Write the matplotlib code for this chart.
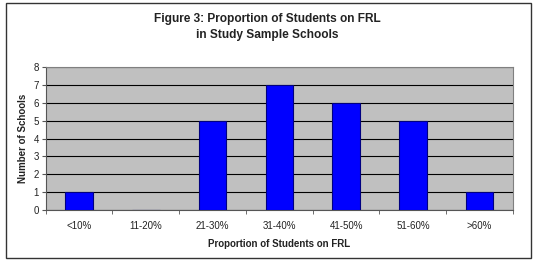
import matplotlib
matplotlib.use("Agg")
import matplotlib.pyplot as plt
from matplotlib.patches import Rectangle
import numpy as np

categories = ["<10%", "11-20%", "21-30%", "31-40%", "41-50%", "51-60%", ">60%"]
counts = [1, 0, 5, 7, 6, 5, 1]

plt.rcParams['font.family'] = ['Liberation Sans', 'DejaVu Sans']

fig = plt.figure(figsize=(5.35, 2.61), dpi=100)
W, H = 535, 261
ax = fig.add_axes([45.7 / W, 1 - 210 / H, (513 - 45.7) / W, (210 - 67) / H])

# outer frame
fig.patches.append(Rectangle((6 / W, 3 / H), (531 - 6) / W, (258 - 3) / H,
                             transform=fig.transFigure, fill=False,
                             edgecolor='#333333', linewidth=1.0))

x = np.arange(len(categories))
ax.set_facecolor('#C0C0C0')
ax.bar(x, counts, width=0.41, color='#0000FF', edgecolor='#000080', linewidth=0.8, zorder=3)
ax.set_xlim(-0.5, len(categories) - 0.5)
ax.set_ylim(0, 8)
ax.set_yticks(range(0, 9))
ax.yaxis.grid(True, color='black', linewidth=0.8, zorder=1)
ax.set_axisbelow(True)

ax.set_xticks(x)
ax.set_xticklabels(categories, fontsize=7, color='#222222')
ax.set_xticks(np.arange(-0.5, len(categories) + 0.5, 1), minor=True)
ax.tick_params(axis='x', which='major', length=0, pad=8)
ax.tick_params(axis='x', which='minor', length=3, direction='out', color='#555555')
ax.tick_params(axis='y', length=3, direction='out', labelsize=7, labelcolor='#222222', color='#555555', pad=2)

for s in ['top', 'right']:
    ax.spines[s].set_color('#808080')
    ax.spines[s].set_linewidth(0.8)
for s in ['left', 'bottom']:
    ax.spines[s].set_color('#555555')
    ax.spines[s].set_linewidth(0.8)

ax.set_xlabel("Proportion of Students on FRL", fontsize=7, fontweight='bold', color='#222222', labelpad=6)
ax.set_ylabel("Number of Schools", fontsize=7, fontweight='bold', color='#222222', labelpad=4)

fig.text(0.5, 1 - 19 / H, "Figure 3: Proportion of Students on FRL", ha='center', va='center',
         fontsize=8.6, fontweight='bold', color='#222222')
fig.text(0.5, 1 - 35 / H, "in Study Sample Schools", ha='center', va='center',
         fontsize=8.6, fontweight='bold', color='#222222')

fig.savefig("out.png", dpi=100)
